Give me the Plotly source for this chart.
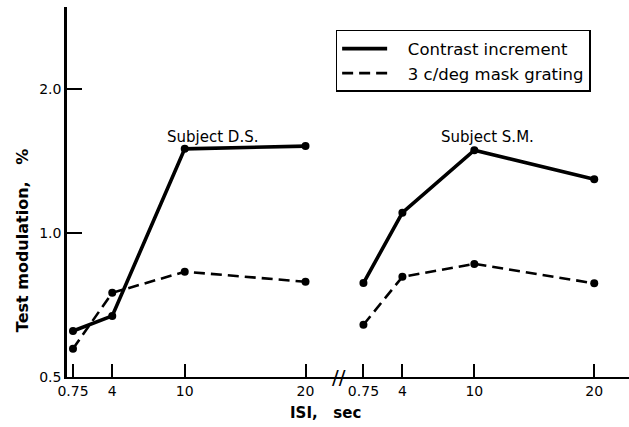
import math
import plotly.graph_objects as go

# ---- data ----
isi_ticks = [0.75, 4, 10, 20]
isi_labels = ["0.75", "4", "10", "20"]

ds_isi = [0.75, 4, 10, 20]
ds_contrast = [0.624, 0.671, 1.50, 1.52]
ds_mask = [0.573, 0.750, 0.830, 0.791]

sm_isi = [0.75, 4, 10, 20]
sm_contrast = [0.786, 1.103, 1.49, 1.295]
sm_mask = [0.643, 0.810, 0.862, 0.785]

y_ticks = [0.5, 1.0, 2.0]
y_labels = ["0.5", "1.0", "2.0"]

series_names = ["Contrast increment", "3 c/deg mask grating"]

FONT = "DejaVu Sans"
SOLID = dict(color="black", width=3.6)
DASHED = dict(color="black", width=2.6, dash="11px,6px")
MARK = dict(color="black", size=8)

fig = go.Figure()

# left panel (subject D.S.)
fig.add_trace(go.Scatter(x=ds_isi, y=ds_contrast, mode="lines+markers",
                         line=SOLID, marker=MARK, showlegend=False,
                         xaxis="x", yaxis="y"))
fig.add_trace(go.Scatter(x=ds_isi, y=ds_mask, mode="lines+markers",
                         line=DASHED, marker=MARK, showlegend=False,
                         xaxis="x", yaxis="y"))
# right panel (subject S.M.)
fig.add_trace(go.Scatter(x=sm_isi, y=sm_contrast, mode="lines+markers",
                         line=SOLID, marker=MARK, showlegend=False,
                         xaxis="x2", yaxis="y"))
fig.add_trace(go.Scatter(x=sm_isi, y=sm_mask, mode="lines+markers",
                         line=DASHED, marker=MARK, showlegend=False,
                         xaxis="x2", yaxis="y"))
# legend entries (line samples only)
pad = "\u00a0\u00a0\u00a0"
fig.add_trace(go.Scatter(x=[None], y=[None], mode="lines", line=SOLID,
                         name=pad + series_names[0], xaxis="x", yaxis="y"))
fig.add_trace(go.Scatter(x=[None], y=[None], mode="lines", line=DASHED,
                         name=pad + series_names[1], xaxis="x", yaxis="y"))

split = 0.4831
common_x = dict(showline=True, linecolor="black", linewidth=2.2,
                ticks="inside", ticklen=13, tickwidth=1.6, tickcolor="black",
                tickvals=isi_ticks, ticktext=isi_labels, showgrid=False,
                zeroline=False, tickfont=dict(family=FONT, size=14, color="black"),
                anchor="y")

fig.update_layout(
    width=629, height=427,
    margin=dict(l=67, r=0, t=7, b=50),
    paper_bgcolor="white", plot_bgcolor="white",
    xaxis=dict(domain=[0, split], range=[0.254, 22.73], **common_x),
    xaxis2=dict(domain=[split, 1], range=[-1.33, 22.9], **common_x),
    yaxis=dict(type="log", range=[math.log10(0.5), math.log10(2.97)],
               tickvals=y_ticks, ticktext=y_labels, showline=True,
               linecolor="black", linewidth=2.6, ticks="inside", ticklen=15,
               tickwidth=1.6, tickcolor="black", showgrid=False, zeroline=False,
               tickfont=dict(family=FONT, size=14, color="black"), anchor="x"),
    legend=dict(x=0.478, y=0.938, xanchor="left", yanchor="top",
                bordercolor="black", borderwidth=1.5, bgcolor="white",
                font=dict(family=FONT, size=16.5, color="black"),
                itemwidth=45, tracegroupgap=0),
    showlegend=True,
)

ann_font = dict(family=FONT, size=15, color="black")
fig.add_annotation(text="Subject D.S.", xref="paper", yref="paper",
                   x=0.259, y=0.648, xanchor="center", yanchor="middle",
                   showarrow=False, font=ann_font)
fig.add_annotation(text="Subject S.M.", xref="paper", yref="paper",
                   x=0.748, y=0.648, xanchor="center", yanchor="middle",
                   showarrow=False, font=ann_font)
fig.add_annotation(text="<b>Test modulation,\u00a0\u00a0 %</b>", xref="paper",
                   yref="paper", x=-0.08, y=0.37, xanchor="center", yanchor="middle",
                   textangle=-90, showarrow=False,
                   font=dict(family=FONT, size=16, color="black"))
fig.add_annotation(text="<b>ISI,\u00a0\u00a0 sec</b>", xref="paper", yref="paper",
                   x=0.46, y=-0.097, xanchor="center", yanchor="middle", showarrow=False,
                   font=dict(family=FONT, size=15, color="black"))
# axis break marker
fig.add_annotation(text="//", xref="paper", yref="paper", x=split, y=0,
                   xanchor="center", yanchor="middle", showarrow=False,
                   font=dict(family=FONT, size=20, color="black"))

fig.write_html("out.html")
